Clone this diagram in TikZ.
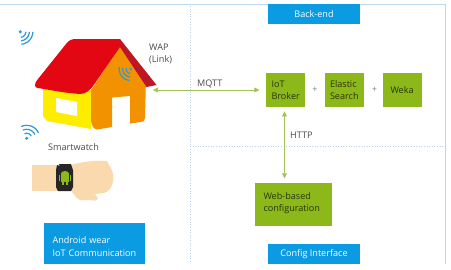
\documentclass[tikz,border=0pt]{standalone}
\usepackage{fontspec}
\setmainfont{Open Sans}
\usetikzlibrary{arrows.meta}
\definecolor{framec}{HTML}{BBD8F0}
\definecolor{dotc}{HTML}{BBD3EC}
\definecolor{bluebox}{HTML}{0A9BE2}
\definecolor{greenbox}{HTML}{8DB81A}
\definecolor{arrowc}{HTML}{A3C454}
\definecolor{wifi}{HTML}{2A9BD8}
\definecolor{skin}{HTML}{FAD9AE}
\definecolor{txt}{HTML}{4A4A4A}
\definecolor{roofred}{HTML}{E30613}
\definecolor{roofdark}{HTML}{BE1622}
\definecolor{wallorange}{HTML}{F39200}
\definecolor{wallyellow}{HTML}{FFED00}
\tikzset{
  x=1pt,y=-1pt,
  frameline/.style={draw=framec,line width=1pt},
  dotline/.style={draw=dotc,line width=1pt,dash pattern=on 1pt off 1.6pt},
  titlebox/.style={fill=bluebox,text=white,font=\fontsize{9.1}{12.3}\selectfont,inner sep=0pt,align=left},
  greenstep/.style={fill=greenbox,text=black!72!greenbox,font=\fontsize{9.1}{12.3}\selectfont,inner sep=0pt,align=left},
  lbl/.style={text=txt,font=\fontsize{9.1}{12.6}\selectfont,inner sep=0pt,align=left},
  plusmark/.style={text=txt!70,font=\fontsize{9}{10}\selectfont,inner sep=0pt},
  link/.style={draw=arrowc,line width=0.7pt,{Triangle[length=5pt,width=5pt]}-{Triangle[length=5pt,width=5pt]}},
  wave/.style={draw=wifi,line width=1.2pt},
}
% \wavefan{cx}{cy}{from angle}{to angle}{radius}: one arc of a wireless symbol
\newcommand{\wavefan}[5]{%
  \draw[wave] plot[smooth,samples=9,domain=#3:#4,variable=\t] ({#1+#5*cos(\t)},{#2+#5*sin(\t)});}
\begin{document}
\begin{tikzpicture}
\useasboundingbox[fill=white] (0,0) rectangle (451,269);
% outer frame and dotted zone separators
\draw[frameline] (0,4.5) -- (445.5,4.5) -- (445.5,264);
\draw[dotline] (190,6) -- (190,262);
\draw[dotline] (190,146) -- (446,146);

% house
\fill[wallyellow] (43,89) -- (80,94) -- (91,90) -- (91,129) -- (47,121) -- (43,116) -- cycle;
\fill[white] (56,98) -- (77,102) -- (77,116) -- (56,112) -- cycle;
\fill[wallorange] (120,46) -- (146,78) -- (145,118) .. controls (145,121) and (143,122) .. (141,122)
  -- (130,123.5) -- (130,96) -- (112,97.5) -- (112,127) -- (97,129.5) .. controls (93,129) and (92,125) .. (91,121) -- (91,90) -- cycle;
\fill[roofdark] (120,39) -- (156.5,85) -- (146.5,87) -- (120,47) -- cycle;
\fill[roofred] (35,85) .. controls (35,83) and (36,81) .. (38,79) -- (66,44)
  .. controls (69,40) and (72,39) .. (76,39) -- (120,39) -- (120,47) -- (93,86)
  .. controls (90,90) and (86,94) .. (80,94) .. controls (65,93) and (50,90) .. (38,88)
  .. controls (36,88) and (35,87) .. (35,85) -- cycle;

% wireless symbols
\fill[wifi] (20.3,31.8) circle (1.7);
\foreach \r in {5.5,9,12.5} {\wavefan{20.3}{31.8}{0}{85}{\r}}
\fill[wifi] (130.7,69) circle (1.4);
\foreach \r in {4.5,8,11.5} {\wavefan{130.7}{69}{95}{190}{\r}}
\fill[wifi] (26.7,138.3) circle (1.7);
\foreach \r in {5,9,13} {\wavefan{26.7}{138.3}{-115}{-25}{\r}}

% wrist with watch
\fill[skin] (32,164.5) -- (60,164.5) -- (60,190.5) -- (32,190.5) -- cycle;
\fill[skin] (70,165) .. controls (82,162) and (95,160) .. (107,161)
  .. controls (110,168) and (115,172) .. (113,181) .. controls (112,187) and (110,191) .. (104,193)
  -- (95,194) -- (98,198) .. controls (97,201) and (94,201) .. (91,200) -- (80,200)
  .. controls (74,197) and (72,190) .. (70,190) -- cycle;
\fill[black!85] (60,166) -- (57,165) -- (56,170) -- (56,187) -- (58,191) -- (71,191) -- (73,187) -- (73,170) -- (71,164) -- (59,164) -- cycle;
% android figure on the watch face
\fill[greenbox] (65,174) ellipse (4.2 and 3);
\fill[greenbox] (60.8,175) rectangle (69.2,182);
\fill[greenbox] (59,175) rectangle (60.2,181);
\fill[greenbox] (69.8,175) rectangle (71,181);
\fill[greenbox] (62,182) rectangle (64,184.5);
\fill[greenbox] (66,182) rectangle (68,184.5);

% labels on the left
\node[lbl,anchor=west] (wap) at (149,54) {WAP\\(Link)};
\node[lbl,anchor=west] (watchlbl) at (48,147) {Smartwatch};
\node[lbl,anchor=west] (mqtt) at (197,84) {MQTT};

% zone titles
\node[titlebox,minimum width=92pt,minimum height=20pt] (backend) at (314,14.2) {Back-end};
\node[titlebox,minimum width=92pt,minimum height=20pt] (config) at (314,254) {Config Interface};
\node[titlebox,minimum width=101pt,minimum height=41pt,text width=84pt,text height=13pt] (wear) at (94.5,243.5) {Android wear\\IoT Communication};

% processing blocks
\node[greenstep,minimum width=39pt,minimum height=34.5pt,text width=28pt] (broker) at (285.5,90) {IoT\\Broker};
\node[greenstep,minimum width=39pt,minimum height=34.5pt,text width=29pt] (elastic) at (344.5,90) {Elastic\\Search};
\node[greenstep,minimum width=39pt,minimum height=34.5pt,text width=24pt] (weka) at (402.5,90) {Weka};
\node[greenstep,minimum width=77pt,minimum height=43pt,text width=60pt] (web) at (293.5,204.5) {Web-based\\configuration\\[-7pt]\mbox{}};
\node[plusmark] (plus1) at (315,90) {+};
\node[plusmark] (plus2) at (374.5,90) {+};
\node[lbl,anchor=west] (http) at (290,135) {HTTP};

% connections
\coordinate (house) at (153,90);
\draw[link] (house) -- ([xshift=-6.5pt]broker.west);
\draw[link] ([xshift=-1pt,yshift=-4pt]broker.south) -- ([xshift=-9pt,yshift=4.5pt]web.north);
\end{tikzpicture}
\end{document}
